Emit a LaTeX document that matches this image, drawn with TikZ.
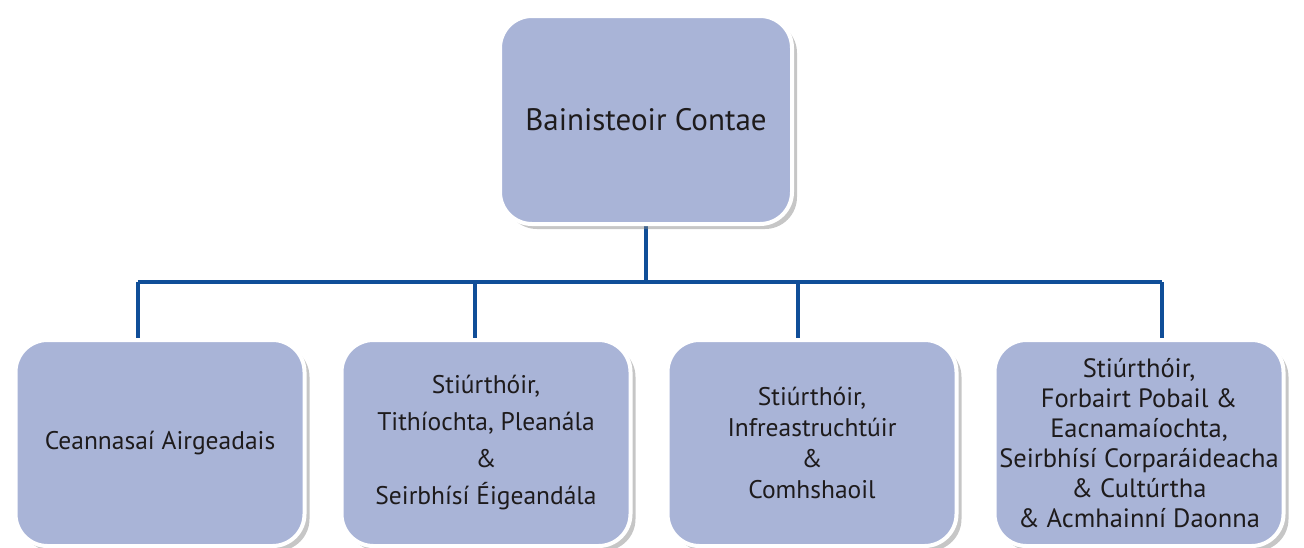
\documentclass[tikz,border=0pt]{standalone}
\usepackage{fontspec}
\setmainfont{PT Sans}
\usetikzlibrary{shadows,backgrounds}
\definecolor{boxfill}{RGB}{169,180,215}
\definecolor{linkblue}{RGB}{16,78,152}
\definecolor{txt}{RGB}{30,27,28}
\tikzset{
  orgbox/.style={rounded corners=32pt, fill=boxfill, draw=white, line width=4pt,
    drop shadow={opacity=0.45, shadow xshift=5pt, shadow yshift=-5pt},
    align=center, text=txt, inner sep=0pt},
  topbox/.style={orgbox, minimum width=292pt, minimum height=208pt, font=\fontsize{31}{36}\selectfont},
  subbox/.style={orgbox, minimum width=289pt, minimum height=206pt, font=\fontsize{25.5}{30}\selectfont},
  conn/.style={draw=linkblue, line width=4.5pt}
}
\begin{document}
\begin{tikzpicture}[x=1pt,y=-1pt]
\useasboundingbox (0,0) rectangle (1304,547);
\node[topbox] (top) at (646,120) {Bainisteoir Contae};
\node[subbox] (b1) at (160,443) {Ceannasaí Airgeadais};
\node[subbox, font=\fontsize{25.5}{37}\selectfont] (b2) at (486,443) {Stiúrthóir,\\Tithíochta, Pleanála\\\&\\Seirbhísí Éigeandála};
\node[subbox, font=\fontsize{25.5}{31}\selectfont] (b3) at (812,443) {Stiúrthóir,\\Infreastruchtúir\\\&\\Comhshaoil};
\node[subbox, font=\fontsize{26.5}{30}\selectfont] (b4) at (1139,443) {Stiúrthóir,\\Forbairt Pobail \&\\Eacnamaíochta,\\Seirbhísí Corparáideacha\\\& Cultúrtha\\\& Acmhainní Daonna};
\coordinate (hub) at (646,282);
\coordinate (j1) at (138,282);
\coordinate (j2) at (475,282);
\coordinate (j3) at (798,282);
\coordinate (j4) at (1162,282);
\begin{scope}[on background layer]
\draw[conn] (top.south) -- (hub);
\draw[conn] (j1) -- (j4);
\draw[conn] (j1) -- (j1 |- b1.north);
\draw[conn] (j2) -- (j2 |- b2.north);
\draw[conn] (j3) -- (j3 |- b3.north);
\draw[conn] (j4) -- (j4 |- b4.north);
\end{scope}
\end{tikzpicture}
\end{document}
